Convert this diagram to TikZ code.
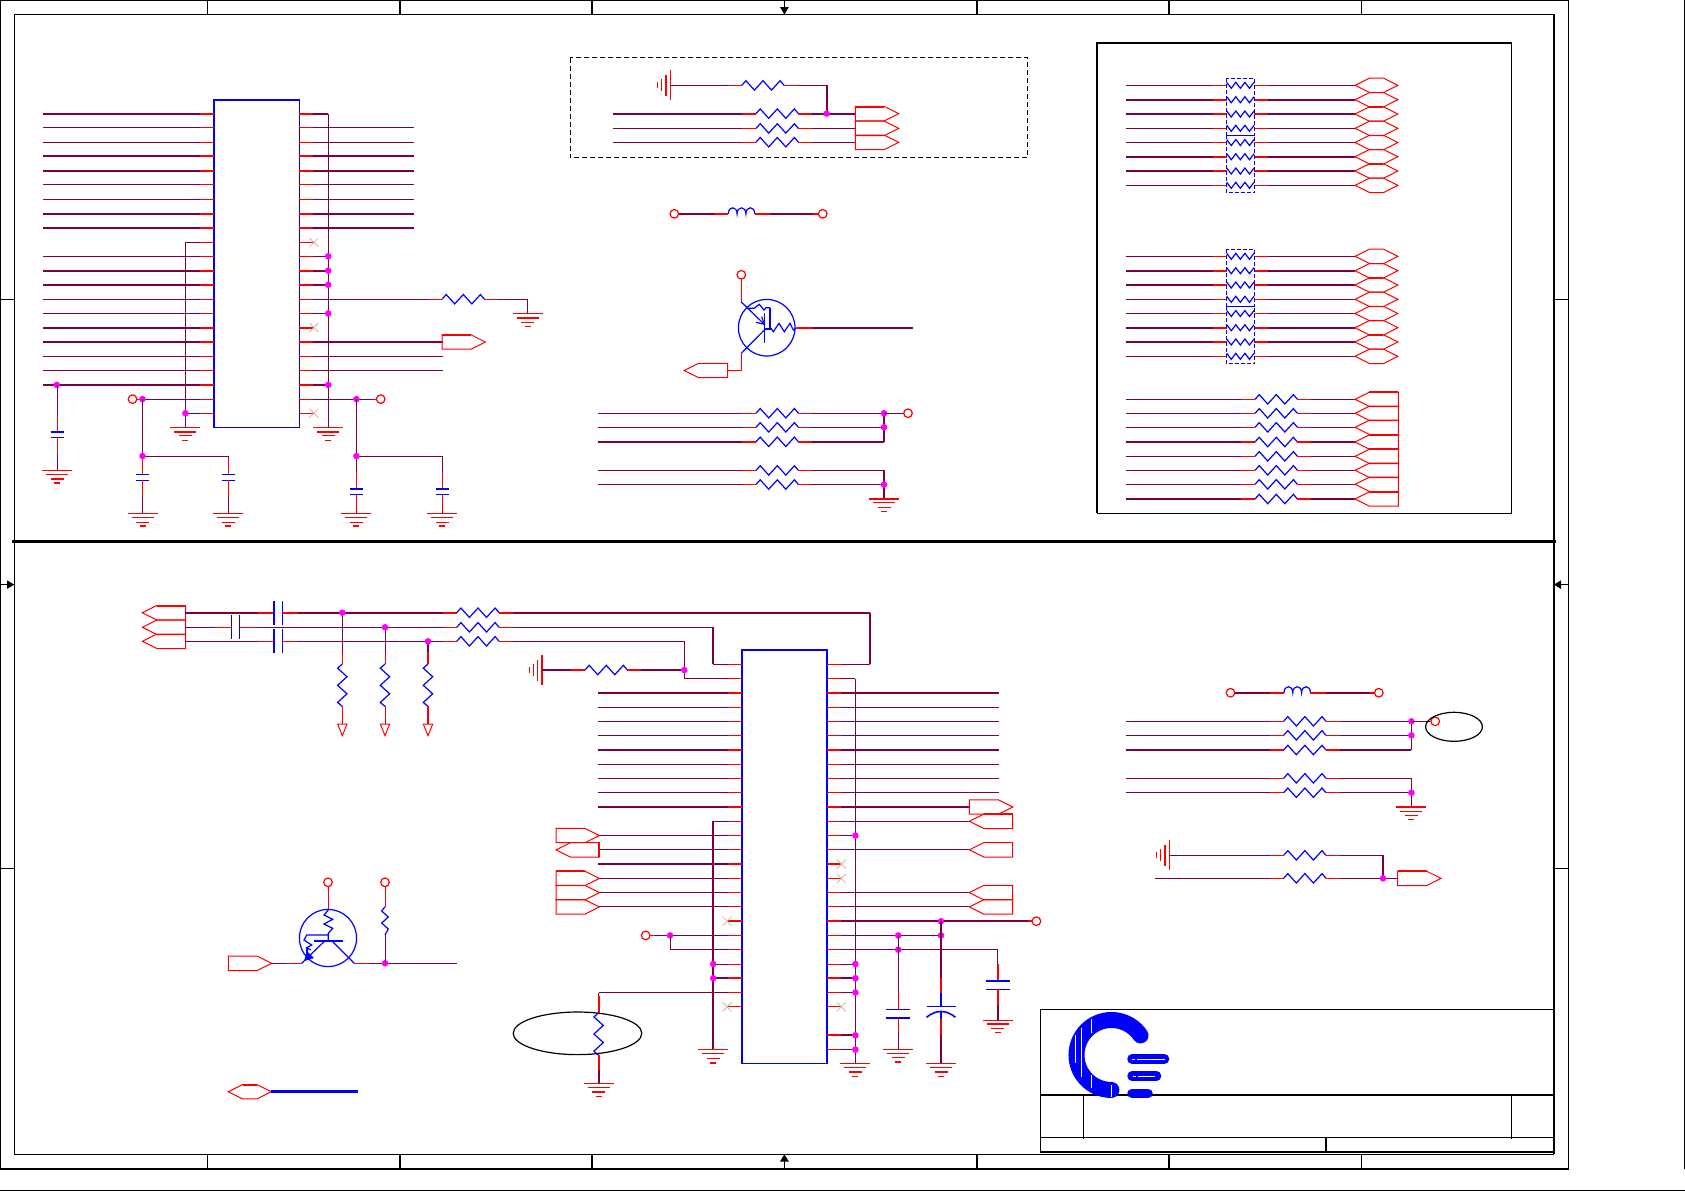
\documentclass[tikz,border=0pt]{standalone}
\definecolor{wirecol}{HTML}{7F0040}
\definecolor{nccol}{HTML}{D8B898}
\definecolor{dotcol}{HTML}{FF00FF}
\definecolor{rd}{HTML}{FF0000}
\definecolor{bu}{HTML}{0000FF}
\tikzset{
 wi/.style={draw=wirecol,line width=#1pt,line cap=butt},
 re/.style={draw=rd,line width=#1pt},
 bl/.style={draw=bu,line width=#1pt},
 ki/.style={draw=black,line width=#1pt},
 wi/.default=.5, re/.default=.5, bl/.default=.6, ki/.default=.5
}
\newcommand{\zigH}[2]{\begin{scope}[shift={(#1,#2)}]\draw[bl] (0,0)--(4.2,-4.7)--(12.7,4.7)--(21.3,-4.7)--(29.8,4.7)--(38.4,-4.7)--(42.4,0);\end{scope}}
\newcommand{\zigS}[2]{\begin{scope}[shift={(#1,#2)}]\draw[bl] (0,-3)--(4.55,3)--(9.1,-3)--(13.65,3)--(18.2,-3)--(22.75,3)--(27.3,-3);\end{scope}}
\newcommand{\zigV}[2]{\begin{scope}[shift={(#1,#2)}]\draw[bl] (0,0)--(-4.7,4.2)--(4.7,12.7)--(-4.7,21.3)--(4.7,29.8)--(-4.7,38.4)--(0,42.4);\end{scope}}
\newcommand{\rr}[5]{\draw[wi=#1] (#2,#4)--({#3-14},#4);\draw[re=#1] ({#3-14},#4)--(#3,#4);\zigH{#3}{#4}\draw[re=#1] ({#3+42.4},#4)--({#3+56.4},#4);\draw[wi=#1] ({#3+56.4},#4)--(#5,#4);}
\newcommand{\rs}[2]{\draw[wi=#1] (1126,#2)--(1213.3,#2);\draw[re=#1] (1213.3,#2)--(1226.7,#2);\zigS{1226.7}{#2}\draw[re=#1] (1254,#2)--(1268.3,#2);\draw[wi=#1] (1268.3,#2)--(1355,#2);\hexport{1355}{#2}}
\newcommand{\rt}[2]{\rr{#1}{1126}{1255}{#2}{1355}\portL{1355}{#2}}
\newcommand{\portR}[2]{\begin{scope}[shift={(#1,#2)}]\draw[re] (0,-7.2)--(29,-7.2)--(43.4,0)--(29,7.2)--(0,7.2)--cycle;\end{scope}}
\newcommand{\portL}[2]{\begin{scope}[shift={(#1,#2)}]\draw[re] (0,0)--(14.4,-7.2)--(43.4,-7.2)--(43.4,7.2)--(14.4,7.2)--cycle;\end{scope}}
\newcommand{\hexport}[2]{\begin{scope}[shift={(#1,#2)}]\draw[re] (0,0)--(14.4,-7.2)--(28.6,-7.2)--(42.8,0)--(28.6,7.2)--(14.4,7.2)--cycle;\end{scope}}
\newcommand{\gnd}[6]{\begin{scope}[shift={(#1,#2)}]\draw[re=#3] (-15,0)--(15,0);\draw[re=#4] (-11,4.3)--(11,4.3);\draw[re=#5] (-6.5,8.6)--(6.5,8.6);\draw[re=#6] (-3,12.9)--(3,12.9);\end{scope}}
\newcommand{\gndS}[4]{\begin{scope}[shift={(#1,#2)}]\draw[re=#3] (0,-15)--(0,15);\draw[re=#4] (-4.5,-10.5)--(-4.5,10.5);\draw[re=.5] (-8.7,-6)--(-8.7,6);\draw[re=.5] (-12.7,-3)--(-12.7,3);\end{scope}}
\newcommand{\dotm}[2]{\fill[dotcol] (#1,#2) circle[radius=1.65pt];}
\newcommand{\ocir}[2]{\draw[re=.6] (#1,#2) circle[radius=2.15pt];}
\newcommand{\ncx}[2]{\begin{scope}[shift={(#1,#2)}]\draw[draw=nccol,line width=.4pt] (-4.5,-4.5)--(4.5,4.5) (-4.5,4.5)--(4.5,-4.5);\end{scope}}
\newcommand{\capV}[7]{\draw[wi] (#1,#2)--(#1,{#4-16.5});\draw[re] (#1,{#4-16.5})--(#1,#4);\draw[bl=#6] ({#1-6.5},#4)--({#1+6.5},#4);\draw[bl=#7] ({#1-6.5},#5)--({#1+6.5},#5);\draw[re] (#1,#5)--(#1,{#5+16.5});\draw[wi] (#1,{#5+16.5})--(#1,#3);}
\newcommand{\coil}[2]{\begin{scope}[shift={(#1,#2)}]\draw[bl] (0,0) .. controls (0,-8) and (8.8,-8) .. (8.8,0) .. controls (8.8,-8) and (17.6,-8) .. (17.6,0) .. controls (17.6,-8) and (26.4,-8) .. (26.4,0);\end{scope}}
\newcommand{\resdown}[3]{\draw[wi=#3] (#1,#2)--(#1,652);\draw[re=#3] (#1,652)--(#1,664);\zigV{#1}{664}\draw[re=#3] (#1,706.4)--(#1,724);\draw[re] ({#1-4.7},724)--({#1+4.7},724)--(#1,735.7)--cycle;}
\begin{document}
\begin{tikzpicture}[x=0.5pt,y=-0.5pt,line join=miter]
\useasboundingbox (0,0) rectangle (1685,1191);
\fill[white] (0,0) rectangle (1685,1191);
% ---------- sheet frame
\draw[ki=.8] (0.5,1169)--(0.5,0.5)--(1568.5,0.5)--(1568.5,1169)--cycle;
\draw[ki=.6] (14.3,1154.3)--(14.3,14.5)--(1554,14.5)--(1554,1154.3);
\draw[ki=.8] (14.3,1154.3)--(1554,1154.3);
\draw[ki=1.5] (12,541.6)--(1556,541.6);
\draw[ki=.7] (0,1190.2)--(1685,1190.2);
\draw[ki=.6] (1684.5,0)--(1684.5,1169);
\foreach \x in {207.4,399.8,592,976.8,1169,1361.5}{\draw[ki=.7] (\x,0)--(\x,14.5);\draw[ki=.7] (\x,1154.3)--(\x,1169);}
\foreach \y in {299.2,868.5}{\draw[ki=.5] (0,\y)--(14.3,\y);\draw[ki=.5] (1554,\y)--(1568.5,\y);}
\draw[ki] (784.4,0)--(784.4,14.5);\fill (780,7)--(788.8,7)--(784.4,14.5)--cycle;
\draw[ki] (784.4,1154.3)--(784.4,1169);\fill (780,1161.5)--(788.8,1161.5)--(784.4,1154.3)--cycle;
\draw[ki] (0,584.6)--(14.3,584.6);\fill (7,580.3)--(7,588.9)--(14.3,584.6)--cycle;
\draw[ki] (1554,584.6)--(1568.5,584.6);\fill (1561,580.3)--(1561,588.9)--(1554,584.6)--cycle;
% ---------- IC1
\draw[bl=.6] (213.8,99.9) rectangle (299.3,427.3);
\draw[bl=1.2] (213.8,427.3)--(213.8,99.9)--(299.3,99.9);
\foreach \i/\s in {0/1,1/.5,2/.5,3/1,4/1,5/.5,6/.5,7/1,8/1,10/.5,11/1,12/1,13/.5,14/.5,15/1,16/1,17/.5,18/.5,19/1}{
 \pgfmathsetmacro\yy{113.6+14.27*\i}
 \draw[wi=\s] (42.5,\yy)--(200,\yy);\draw[re=\s] (200,\yy)--(213.8,\yy);}
\foreach \i/\s in {1/.5,2/.5,3/1,4/1,5/.5,6/.5,7/1,8/1,16/1,17/.5,18/.5}{
 \pgfmathsetmacro\yy{113.6+14.27*\i}
 \pgfmathsetmacro\xe{\i>15?442.5:414}
 \draw[re=\s] (299.3,\yy)--(313.2,\yy);\draw[wi=\s] (313.2,\yy)--(\xe,\yy);}
\foreach \i/\s in {0/1,10/.5,11/1,12/1,14/.5,19/1}{
 \pgfmathsetmacro\yy{113.6+14.27*\i}
 \draw[re=\s] (299.3,\yy)--(313.2,\yy);\draw[wi=\s] (313.2,\yy)--(328.2,\yy);}
\draw[wi=.5] (328.2,113.6)--(328.2,427.3);
\foreach \y in {256.3,270.6,284.8,313.4,384.9}{\dotm{328.2}{\y}}
\foreach \y/\s in {242.4/.5,327.6/1,413.2/.5}{\draw[re=\s] (299.3,\y)--(313.2,\y);\ncx{313.9}{\y}}
\draw[re=.5] (299.3,299.2)--(313.2,299.2);
\rr{.5}{313.2}{442}{299.2}{527.5}
\draw[wi] (527.5,299.2)--(527.5,313.4);
\gnd{527.5}{313.4}{.5}{1}{.5}{.5}
\portR{442}{342}\draw[re=1] (442,334.8)--(471,334.8);
\draw[wi=.5] (200,242.4)--(185.4,242.4)--(185.4,427.3);\draw[re] (200,242.4)--(213.8,242.4);
\draw[wi] (185.4,413.2)--(200,413.2);\draw[re] (200,413.2)--(213.8,413.2);\dotm{185.4}{413.2}
\gnd{185.4}{427.3}{.5}{1}{.5}{.5}\gnd{328.2}{427.3}{.5}{1}{.5}{.5}
\dotm{56.8}{384.9}
\capV{57}{384.9}{470.4}{431.5}{437.3}{1}{.6}\gnd{57}{470.4}{.5}{.5}{1}{1}
\ocir{132.5}{399.1}\draw[re] (136.8,399.1)--(142.5,399.1);\draw[wi] (142.5,399.1)--(200,399.1);\draw[re] (200,399.1)--(213.8,399.1);\dotm{142.5}{399.1}
\capV{142.5}{399.1}{513.4}{474.5}{480.4}{.6}{.6}\gnd{142.5}{513.4}{.5}{.5}{.5}{1}
\draw[wi] (142.5,456)--(228.2,456);\dotm{142.5}{456}
\capV{228.2}{456}{513.4}{474.5}{480.4}{.6}{.6}\gnd{228.2}{513.4}{.5}{.5}{.5}{1}
\draw[re] (299.3,399.1)--(313.2,399.1);\draw[wi] (313.2,399.1)--(372,399.1);\draw[re] (372,399.1)--(376.5,399.1);\ocir{380.7}{399.1}\dotm{356.4}{399.1}
\capV{356.4}{399.1}{513.4}{488.6}{494.5}{1}{.6}\gnd{356.4}{513.4}{.5}{.5}{.5}{1}
\draw[wi] (356.4,456)--(442.1,456);\dotm{356.4}{456}
\capV{442.1}{456}{513.4}{488.6}{494.5}{1}{.6}\gnd{442.1}{513.4}{.5}{.5}{.5}{1}
% ---------- dashed block
\draw[ki,dash pattern=on 2.5pt off 1.5pt] (570.3,57.5) rectangle (1027.3,157.7);
\gndS{670.3}{85.4}{.5}{1}
\draw[wi] (670.3,85.4)--(727.7,85.4);\draw[re] (727.7,85.4)--(741.7,85.4);\zigH{741.7}{85.4}\draw[re] (784.1,85.4)--(798,85.4);\draw[wi] (798,85.4)--(826.7,85.4);\draw[wi=1] (826.7,85.4)--(826.7,113.6);
\rr{1}{613}{756}{113.6}{855.3}\rr{.5}{613}{756}{128.4}{855.3}\rr{.5}{613}{756}{142.2}{855.3}
\dotm{826.7}{113.6}
\portR{855.3}{113.6}\portR{855.3}{128.4}\portR{855.3}{142.4}\draw[re=1] (855.3,106.6)--(884.3,106.6);
% ---------- inductor
\ocir{674.3}{213.8}\ocir{822.7}{213.8}
\draw[wi=1] (678.5,213.8)--(713.7,213.8);\draw[re=1] (713.7,213.8)--(728.3,213.8);\coil{728.3}{213.8}\draw[re=1] (754.7,213.8)--(769.7,213.8);\draw[wi=1] (769.7,213.8)--(813.3,213.8);\draw[re=1] (813.3,213.8)--(818.5,213.8);
% ---------- transistor 1
\ocir{741.3}{274.8}
\draw[re] (741.3,279)--(741.3,302);
\draw[bl] (766.7,327.7) circle[radius=14.15pt];
\draw[bl] (741.3,302)--(764.3,324.3);
\draw[bl] (756,322.3)--(764.3,324.3)--(761.7,316.7);
\draw[bl] (764.3,313.3)--(764.3,342.7);
\draw[bl] (746.7,308.3)--(754,308.3)--(759.3,304.3)--(764,310)--(766,307.7)--(770,307.7);
\draw[bl=1] (770,307.7)--(770,329.3);\draw[bl=1] (764.3,329.3)--(771.7,329.3);
\draw[bl] (771.7,329.3)--(773.3,331.7)--(779,323.3)--(784.3,331.7)--(790,323.3)--(793.3,330)--(796.7,327.7);
\draw[bl] (764.3,330)--(741.3,353.3);
\draw[re=1] (796.7,327.7)--(812.7,327.7);\draw[wi=1] (812.7,327.7)--(912.7,327.7);
\draw[re] (741.3,353.3)--(741.3,370.5)--(727.3,370.5);
\portL{684.3}{370.5}
% ---------- pull rows
\rr{.5}{598.3}{756}{413.2}{884}\rr{.5}{598.3}{756}{427.3}{884}\rr{1}{598.3}{756}{441.8}{884}
\draw[wi=1] (884,413.2)--(884,441.8);\dotm{884}{413.2}\dotm{884}{427.3}
\draw[wi] (884,413.2)--(903.5,413.2);\ocir{908}{413.2}
\rr{.5}{598.3}{756}{470.4}{884}\rr{.5}{598.3}{756}{484.5}{884}
\draw[wi=1] (884,470.4)--(884,498.6);\dotm{884}{484.5}
\gnd{884}{498.6}{1}{.5}{.5}{.5}
% ---------- right box
\draw[ki=.7] (1097.3,43.3) rectangle (1511.7,513.3);
\draw[ki=1] (1097.3,513.3)--(1097.3,43.3)--(1511.7,43.3);
\rs{.5}{85.3}\rs{1}{99.7}\rs{1}{114}\rs{.5}{128.3}\rs{.5}{142.5}\rs{1}{156.7}\rs{1}{171}\rs{.5}{185.3}
\rs{.5}{256.3}\rs{1}{270.7}\rs{1}{285}\rs{.5}{299.3}\rs{.5}{313.5}\rs{1}{327.7}\rs{1}{342}\rs{.5}{356.3}
\foreach \y in {107,164,278,335}{\draw[re=1] (1369,\y)--(1383.4,\y);}
\foreach \a/\b in {78.3/135.3,135.3/192.7,249.3/306.3,306.3/363.7}{\draw[bl=.5,dash pattern=on 2pt off 1pt] (1226,\a) rectangle (1254.7,\b);}
\rt{.5}{399.3}\rt{.5}{413.3}\rt{.5}{427.3}\rt{1}{442}\rt{.5}{456.3}\rt{.5}{470.3}\rt{.5}{484.3}\rt{1}{499}
\foreach \y in {392,435,449,492}{\draw[re=1] (1369,\y)--(1398,\y);}
% ---------- lower left input
\portL{142.3}{612.7}\portL{142.3}{627.3}\portL{142.3}{641.3}\draw[re=1] (156.7,605.5)--(185.3,605.5);
\draw[wi=1] (185.3,612.7)--(258,612.7);\draw[re=1] (258,612.7)--(274,612.7);
\draw[bl=1.2] (274,601)--(274,625);\draw[bl=.6] (282.3,601)--(282.3,625);
\draw[re=1] (282.3,612.7)--(298.3,612.7);
\rr{1}{298.3}{456.7}{612.7}{869.6}
\draw[wi=1] (869.6,612.7)--(869.6,664.3);
\draw[wi] (185.3,627.3)--(215,627.3);\draw[re] (215,627.3)--(231.3,627.3);
\draw[bl=.6] (231.3,615)--(231.3,639.3);\draw[bl=.6] (239.7,615)--(239.7,639.3);
\draw[re] (239.7,627.3)--(256.7,627.3);
\rr{.5}{256.7}{456.7}{627.3}{713.2}
\draw[wi=1] (713.2,627.3)--(713.2,664.3);
\draw[wi] (185.3,641.3)--(258,641.3);\draw[re] (258,641.3)--(274,641.3);
\draw[bl=1.2] (274,629.3)--(274,653.3);\draw[bl=.6] (282.3,629.3)--(282.3,653.3);
\draw[re] (282.3,641.3)--(298.3,641.3);
\rr{.5}{298.3}{456.7}{641.3}{684.3}
\resdown{342.3}{612.7}{.5}\resdown{385}{627.3}{.5}\resdown{428}{641.3}{1}
\dotm{342.3}{612.7}\dotm{385}{627.3}\dotm{428}{641.3}
\gndS{542}{670}{1}{.5}
\rr{1}{542}{585}{670}{684.3}
\draw[wi] (684.3,641.3)--(684.3,678.6)--(727.9,678.6);\dotm{684.3}{670}
% ---------- IC2
\draw[bl=.7] (741.8,650) rectangle (827.1,1063.3);
\draw[bl=1.2] (741.8,650)--(827.1,650)--(827.1,1063.3);
\draw[wi] (727.9,664.3)--(713.2,664.3);\draw[re] (727.9,664.3)--(741.8,664.3);
\draw[re] (727.9,678.6)--(741.8,678.6);
\draw[re] (827.1,664.3)--(841,664.3);\draw[wi] (841,664.3)--(869.6,664.3);
\foreach \i/\s in {2/1,3/.5,4/.5,5/.5,6/1,7/.5,8/.5,9/.5,10/1}{
 \pgfmathsetmacro\yy{664.3+14.27*\i}
 \pgfmathsetmacro\xe{\i>9?969.3:999}
 \draw[wi=\s] (598.2,\yy)--(727.9,\yy);\draw[re=\s] (727.9,\yy)--(741.8,\yy);
 \draw[re=\s] (827.1,\yy)--(841,\yy);\draw[wi=\s] (841,\yy)--(\xe,\yy);}
% left side
\draw[wi=1] (713.2,821.3)--(713.2,1049.6);
\draw[wi] (713.2,821.3)--(727.9,821.3);\draw[re] (727.9,821.3)--(741.8,821.3);
\foreach \y in {835.5,849.8,892.6,906.9,878.4}{\draw[wi] (599.3,\y)--(727.9,\y);\draw[re] (727.9,\y)--(741.8,\y);}
\draw[wi=1] (598.2,864.1)--(727.9,864.1);\draw[re=1] (727.9,864.1)--(741.8,864.1);
\portR{556}{835.5}\portL{556}{849.8}\draw[re=1] (599.4,842.6)--(599.4,857);
\portR{556}{878.4}\portR{556}{892.6}\portR{556}{906.9}\draw[re=1] (556,871.2)--(585,871.2);
\draw[re=1] (727.9,921.2)--(741.8,921.2);\ncx{727.1}{921.2}
\ocir{645.7}{935.4}\draw[re] (650,935.4)--(655,935.4);\draw[wi] (655,935.4)--(727.9,935.4);\draw[re] (727.9,935.4)--(741.8,935.4);\dotm{670}{935.4}
\draw[wi] (670,935.4)--(670,949.7)--(727.9,949.7);\draw[re] (727.9,949.7)--(741.8,949.7);
\draw[wi] (713.2,964)--(727.9,964);\draw[re] (727.9,964)--(741.8,964);\dotm{713.2}{964}
\draw[wi=1] (713.2,978.2)--(727.9,978.2);\draw[re=1] (727.9,978.2)--(741.8,978.2);\dotm{713.2}{978.2}
\draw[re] (727.9,992.5)--(741.8,992.5);\draw[wi] (727.9,992.5)--(598.6,992.5);
\draw[re] (727.9,1006.8)--(741.8,1006.8);\ncx{727.1}{1006.8}
\gnd{713.2}{1049.6}{.5}{.5}{.5}{1}
\draw[ki=.6] (577.5,1033.3) ellipse[x radius=32.15pt,y radius=10.65pt];
\draw[wi] (598.6,992.5)--(598.6,996);\draw[re=1] (598.6,996)--(598.6,1012.7);\zigV{598.6}{1012.7}\draw[re=1] (598.6,1055)--(598.6,1070);\draw[wi=1] (598.6,1070)--(598.6,1083.3);
\gnd{598.6}{1083.3}{.5}{.5}{1}{.5}
% right side
\draw[wi=.5] (855.4,678.6)--(855.4,1063.3);
\draw[re] (827.1,678.6)--(841,678.6);\draw[wi] (841,678.6)--(855.4,678.6);
\foreach \y in {821.3,849.8,892.6,906.9}{\draw[re] (827.1,\y)--(841,\y);\draw[wi] (841,\y)--(969.3,\y);}
\portR{969.3}{807}\portL{969.3}{821.3}\portL{969.3}{849.8}\portL{969.3}{892.6}\portL{969.3}{906.9}
\draw[re=1] (984,814.1)--(1012.7,814.1);
\foreach \y/\s in {835.5/.5,964/.5,978.2/1,992.5/.5,1035.3/1,1049.6/.5}{\draw[re=\s] (827.1,\y)--(841,\y);\draw[wi=\s] (841,\y)--(855.4,\y);\dotm{855.4}{\y}}
\draw[re=1] (827.1,864.1)--(841,864.1);\ncx{841.3}{864.1}
\draw[re] (827.1,878.4)--(841,878.4);\ncx{841.3}{878.4}
\draw[re] (827.1,1006.8)--(841,1006.8);\ncx{841.3}{1006.8}
\draw[re=1] (827.1,921.2)--(841,921.2);\draw[wi=1] (841,921.2)--(1028,921.2);\draw[re=1] (1028,921.2)--(1032.2,921.2);\ocir{1036.4}{921.2}\dotm{941}{921.2}
\draw[re] (827.1,935.4)--(841,935.4);\draw[wi] (841,935.4)--(941,935.4);\dotm{898.2}{935.4}\dotm{941}{935.4}
\draw[re] (827.1,949.7)--(841,949.7);\draw[wi] (841,949.7)--(997.9,949.7);\dotm{898.2}{949.7}
\gnd{855.4}{1063.3}{.5}{.5}{1}{.5}
% caps at right of IC2
\draw[wi] (898.2,935.4)--(898.2,993.3);\draw[re] (898.2,993.3)--(898.2,1009.3);
\draw[bl=.6] (886.2,1009.3)--(910.2,1009.3);\draw[bl=1.2] (886.2,1018)--(910.2,1018);
\draw[re] (898.2,1018)--(898.2,1033);\draw[wi] (898.2,1033)--(898.2,1049.3);
\gnd{898.2}{1049.3}{.5}{.5}{.5}{1}
\draw[wi=1] (941,921.2)--(941,978.3);\draw[re=1] (941,978.3)--(941,992.7);\draw[bl=1] (941,992.7)--(941,1006.3);
\draw[bl=.6] (926.5,1006.3)--(955.5,1006.3);
\draw[bl=.8] (926.5,1017.3) .. controls (936,1009.5) and (946,1009.5) .. (955.5,1017.3);
\draw[bl=1] (941,1011.5)--(941,1019.3);\draw[re=1] (941,1019.3)--(941,1035);\draw[wi=1] (941,1035)--(941,1063.3);
\gnd{941}{1063.3}{.5}{.5}{1}{.5}
\draw[wi] (997.9,949.7)--(997.9,964);\draw[re=1] (997.9,964)--(997.9,980.7);
\draw[bl=1.2] (986.1,980.7)--(1009.7,980.7);\draw[bl=.6] (986.1,989.3)--(1009.7,989.3);
\draw[re=1] (997.9,989.3)--(997.9,1005);\draw[wi=1] (997.9,1005)--(997.9,1020);
\gnd{997.9}{1020}{.5}{1}{.5}{.5}
% ---------- transistor 2
\ocir{328}{882.3}\draw[re] (328,886.5)--(328,910);
\draw[bl] (328,938) circle[radius=14.3pt];
\draw[bl] (328.3,910)--(324,915)--(332.7,919.3)--(324,924)--(332.7,928.3)--(328.3,933.3)--(328.3,940.7);
\draw[bl=1] (314,940.7)--(342.7,940.7);
\draw[bl] (325,940.7)--(301.7,963.3);\draw[bl] (331.7,940.7)--(354.3,963.3);
\draw[bl] (328.3,935)--(306.7,935)--(304,940)--(311.7,945)--(306.7,947.7)--(310.7,950);
\draw[bl=1] (306.7,948)--(306.7,957);
\fill[bu] (304,961)--(307,951)--(314,958)--cycle;
\portR{228.3}{963.3}
\draw[wi] (271.3,963.3)--(286.7,963.3);\draw[re] (286.7,963.3)--(301.7,963.3);
\draw[re] (354.3,963.3)--(370,963.3);\draw[wi] (370,963.3)--(456.7,963.3);\dotm{385}{963.3}
\ocir{385}{882.3}\draw[re] (385,886.5)--(385,906.7);
\draw[bl] (385,906.7)--(381.7,911)--(388.3,917)--(381.7,923)--(388.3,929)--(385,935);
\draw[wi] (385,935)--(385,963.3);
% ---------- bus stub
\hexport{228.3}{1091.7}\draw[re=1] (242.7,1084.5)--(257,1084.5);
\draw[bl=1.5] (271.3,1091.7)--(358.3,1091.7);
% ---------- lower right
\ocir{1230.5}{692.7}\ocir{1378.8}{692.7}
\draw[wi=1] (1234.7,692.7)--(1270,692.7);\draw[re=1] (1270,692.7)--(1284,692.7);\coil{1284}{692.7}\draw[re=1] (1310.4,692.7)--(1325.7,692.7);\draw[wi=1] (1325.7,692.7)--(1370,692.7);\draw[re=1] (1370,692.7)--(1374.6,692.7);
\rr{.5}{1126}{1283.6}{721.3}{1411.4}\rr{.5}{1126}{1283.6}{735.3}{1411.4}\rr{1}{1126}{1283.6}{750}{1411.4}
\draw[wi=.5] (1411.4,721.3)--(1411.4,750);\dotm{1411.4}{721.3}\dotm{1411.4}{735.3}
\draw[wi] (1411.4,721.3)--(1431,721.3);\ocir{1435.2}{721.3}
\draw[ki=.6] (1454,726.8) ellipse[x radius=14.2pt,y radius=7.25pt];
\rr{.5}{1126}{1283.6}{778.3}{1411.4}\rr{.5}{1126}{1283.6}{792.7}{1411.4}
\draw[wi=.5] (1411.4,778.3)--(1411.4,806.7);\dotm{1411.4}{792.7}
\gnd{1411.4}{806.7}{1}{.5}{.5}{.5}
\gndS{1169.5}{855.3}{.5}{1}
\rr{.5}{1169.5}{1283.6}{855.3}{1383}\rr{.5}{1154.5}{1283.6}{878.3}{1397.6}
\draw[wi=.7] (1383,855.3)--(1383,878.3);\dotm{1383}{878.3}
\portR{1397.6}{878.3}\draw[re=1] (1397.6,871.1)--(1426.6,871.1);
% ---------- title block
\draw[ki=.6] (1040.4,1152)--(1040.4,1009.3)--(1553.8,1009.3);
\draw[ki=1] (1040.4,1152)--(1553.8,1152);
\draw[ki=1] (1040.4,1095)--(1553.8,1095);
\draw[ki=.5] (1040.4,1137.3)--(1553.8,1137.3);
\draw[ki=.5] (1083.5,1095)--(1083.5,1138.5);\draw[ki=.5] (1511.2,1095)--(1511.2,1138.5);
\draw[ki=.8] (1325.7,1137.3)--(1325.7,1152);
% logo
\draw[draw=bu,line width=8pt,line cap=round] (1140.5,1035.4) arc[start angle=34,end angle=270,radius=17.5pt];
\foreach \a/\b/\c in {1059/1132/1164.5,1076/1132/1156.5,1093.3/1132/1148}{\draw[draw=bu,line width=4.75pt,line cap=round] (\b,\a)--(\c,\a);}
\draw[draw=white,line width=.4pt] (1075.7,1035)--(1075.7,1063) (1081.3,1028)--(1081.3,1077) (1091.7,1019)--(1091.7,1033) (1091.7,1075)--(1091.7,1088) (1111.7,1085)--(1111.7,1097);
\draw[draw=white,line width=.3pt] (1132,1059)--(1135,1059) (1137,1059)--(1165,1059) (1133,1076)--(1136,1076) (1138,1076)--(1155,1076);
\end{tikzpicture}
\end{document}
